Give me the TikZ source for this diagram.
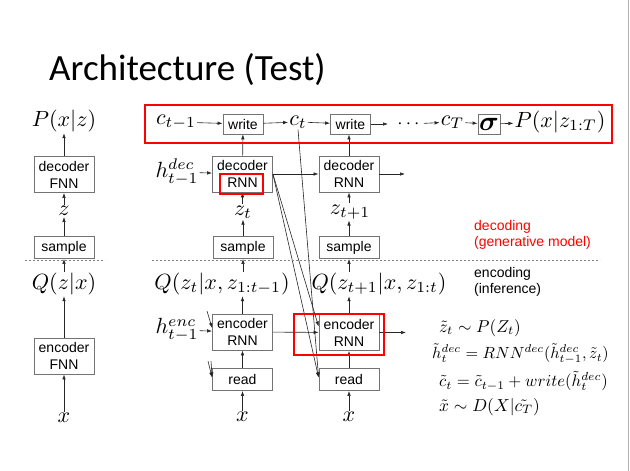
\documentclass[tikz,border=0pt]{standalone}
\usepackage{amsmath}
\usepackage{graphicx}
\usepackage{fontspec}
\setmainfont{Liberation Sans}
\newfontfamily\titlefont{Carlito}
\usetikzlibrary{arrows.meta,calc}
\newcommand\mlab[1]{\scalebox{2.2}{$#1$}}
\newcommand\meq[2]{\scalebox{#1}{$#2$}}
\begin{document}
\begin{tikzpicture}[x=1pt,y=-1pt,
  box/.style={draw=black!55, line width=0.8pt, font=\fontsize{14}{17}\selectfont, align=center, inner sep=0pt},
  big/.style={minimum width=60pt, minimum height=36pt},
  small/.style={minimum width=60pt, minimum height=22pt},
  wbox/.style={minimum width=40pt, minimum height=20pt},
  lab/.style={inner sep=1pt},
  eq/.style={inner sep=0pt, anchor=west},
  arr/.style={-{Latex[length=5pt,width=3.5pt]}, line width=0.6pt, black!85},
  redbox/.style={draw=red, line width=2pt},
  sep/.style={dash pattern=on 2pt off 2pt, black!50, line width=0.6pt},
  note/.style={anchor=west, align=left, font=\fontsize{14}{16}\selectfont, inner sep=0pt}
]
\useasboundingbox (0,0) rectangle (630,471);
\draw[black!30, line width=1pt] (628.5,0) -- (628.5,471);

\node[anchor=base west, inner sep=0pt, font=\titlefont\fontsize{37}{44}\selectfont] (title) at (49,80) {Architecture (Test)};

% left column
\node[lab] (Pxz) at (64,121) {\mlab{P(x|z)}};
\node[box,big] (decF) at (64,174.5) {decoder\\FNN};
\node[lab] (zL) at (64,211) {\mlab{z}};
\node[box,small] (sampL) at (64,247.5) {sample};
\node[lab] (Qzx) at (64,284) {\mlab{Q(z|x)}};
\node[box,big] (encF) at (64,356) {encoder\\FNN};
\node[lab] (xL) at (64,418) {\mlab{x}};
\draw[arr] (xL) -- (encF);
\draw[arr] (encF) -- (Qzx);
\draw[arr] (Qzx) -- (sampL);
\draw[arr] (sampL) -- (zL);
\draw[arr] (zL) -- (decF);
\draw[arr] (decF) -- (Pxz);

% top row
\node[lab] (cprev) at (176,122) {\mlab{c_{t-1}}};
\node[box,wbox] (w1) at (243,124) {write};
\node[lab] (ct) at (298,122) {\mlab{c_t}};
\node[box,wbox] (w2) at (350.5,124) {write};
\coordinate (w2o) at (388,124);
\node[lab] (dots) at (410,124) {\scalebox{1.9}{$\cdots$}};
\node[lab] (cT) at (452.5,122) {\mlab{c_T}};
\node[box,minimum width=22pt,minimum height=20pt] (sig) at (489,124) {\scalebox{1.9}{$\boldsymbol{\sigma}$}};
\node[lab] (Pout) at (560,122) {\mlab{P(x|z_{1:T})}};
\draw[arr] (cprev) -- (w1);
\draw[arr] (w1) -- (ct);
\draw[arr] (ct) -- (w2);
\draw[arr] (w2) -- (w2o);
\draw[arr] (dots) -- (cT);
\draw[arr] (cT) -- (sig);
\draw[arr] (sig) -- (Pout);

% column 1
\node[lab] (hdec) at (177,172) {\mlab{h^{dec}_{t-1}}};
\node[box,big] (dec1) at (242.5,174) {decoder\\RNN};
\node[lab] (zt) at (243,212) {\mlab{z_t}};
\node[box,small] (s1) at (243,247.5) {sample};
\node[lab] (Q1) at (222,284) {\mlab{Q(z_t|x,z_{1:t-1})}};
\node[lab] (henc) at (177,330) {\mlab{h^{enc}_{t-1}}};
\node[box,big] (enc1) at (242.5,332) {encoder\\RNN};
\node[box,small] (r1) at (242.5,379.5) {read};
\node[lab] (x1) at (242.5,417) {\mlab{x}};

% column 2
\node[box,big] (dec2) at (349,174) {decoder\\RNN};
\node[lab] (zt1) at (350,212) {\mlab{z_{t+1}}};
\node[box,small] (s2) at (349,247.5) {sample};
\node[lab] (Q2) at (379,284) {\mlab{Q(z_{t+1}|x,z_{1:t})}};
\node[box,big] (enc2) at (349,332.5) {encoder\\RNN};
\node[box,small] (r2) at (349,379.5) {read};
\node[lab] (x2) at (349,417) {\mlab{x}};
\coordinate (dout) at (405,174);
\coordinate (eout) at (406,332.5);

% vertical arrows
\draw[arr] (x1) -- (r1);
\draw[arr] (r1) -- (enc1);
\draw[arr] (enc1.north) -- (enc1.north |- Q1.south);
\draw[arr] (s1.south |- Q1.north) -- (s1.south);
\draw[arr] (s1) -- (s1.north |- zt.south);
\draw[arr] (dec1.south |- zt.north) -- (dec1.south);
\draw[arr] (dec1) -- (w1);
\draw[arr] (x2) -- (r2);
\draw[arr] (r2) -- (enc2);
\draw[arr] (enc2.north) -- (enc2.north |- Q2.south);
\draw[arr] (s2.south |- Q2.north) -- (s2.south);
\draw[arr] (s2) -- (s2.north |- zt1.south);
\draw[arr] (dec2.south |- zt1.north) -- (dec2.south);
\draw[arr] (dec2.north) -- (dec2.north |- w2.south);

% horizontal arrows
\draw[arr] (hdec) -- (dec1);
\draw[arr] (dec1) -- (dec2);
\draw[arr] (dec2) -- (dout);
\draw[arr] (henc) -- (enc1);
\draw[arr] (enc1) -- (enc2);
\draw[arr] (enc2) -- (eout);

% diagonals
\draw[arr] (dec1.east) -- ([yshift=6pt]enc2.west);
\draw[arr] (dec1.east) -- ([yshift=2pt]r2.west);
\draw[arr] (ct.south) -- ([yshift=2pt]r2.west);
\coordinate (st1) at (207,311);
\coordinate (st2) at (208,361);
\coordinate (st3) at (211,361);
\draw[arr] (st1) -- ([yshift=4pt]enc1.west);
\draw[arr] (st2) -- ([yshift=2pt]r1.west);
\draw[arr] (st3) -- ([yshift=2pt]r1.west);

% separators
\draw[sep] (25,260) -- (105,260);
\draw[sep] (152,260) -- (600,260);

% notes
\node[note, text=red] (decnote) at (474,235) {decoding\\(generative model)};
\node[note] (encnote) at (474,282) {encoding\\(inference)};

% equations
\node[eq] (e1) at (439,328) {\meq{1.72}{\tilde z_t \sim P(Z_t)}};
\node[eq] (e2) at (432,354) {\meq{1.62}{\tilde h^{dec}_t = RNN^{dec}(\tilde h^{dec}_{t-1},\tilde z_t)}};
\node[eq] (e3) at (439,381) {\meq{1.67}{\tilde c_t = \tilde c_{t-1} + write(\tilde h^{dec}_t)}};
\node[eq] (e4) at (439,407) {\meq{1.74}{\tilde x \sim D(X|\tilde{c_T})}};

% red highlights
\draw[redbox] (145,105) rectangle (612,143);
\draw[redbox] (220,174) rectangle (263,194);
\draw[redbox] (294,314) rectangle (384,355);
\end{tikzpicture}
\end{document}
